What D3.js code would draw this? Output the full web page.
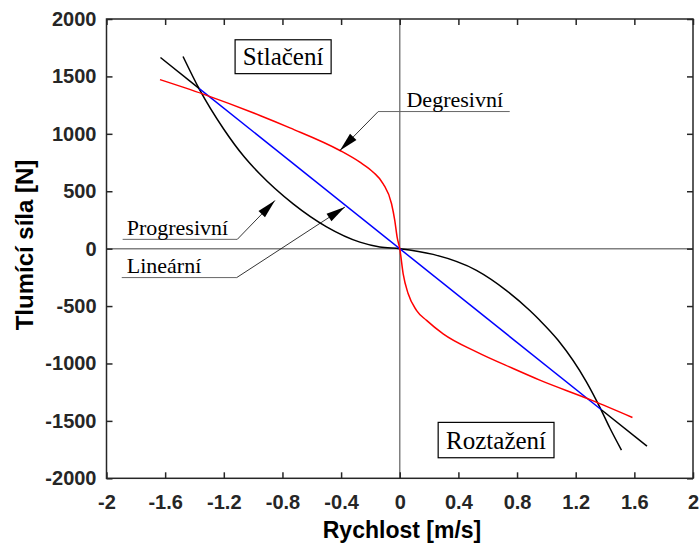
<!DOCTYPE html>
<html>
<head>
<meta charset="utf-8">
<script src="https://cdn.jsdelivr.net/npm/d3@7.9.0/dist/d3.min.js"></script>
<style>
  body { margin: 0; background: #fff; }
  svg { display: block; }
  .tick text { font-family: "Liberation Sans", Arial, sans-serif; font-weight: bold; font-size: 20px; fill: #262626; }
  .note { font-family: "Liberation Serif", "Times New Roman", serif; fill: #000; }
</style>
</head>
<body>
<div id="chart"></div>
<script>
// Velocity [m/s] and damping force [N]
const progV = [-1.478, -1.367, -1.2, -1.061, -0.954, -0.727, -0.499, -0.272, -0.136, 0, 0.228, 0.523, 0.728, 0.887, 0.955, 1.080, 1.273, 1.37, 1.432, 1.512];
const progF = [1673, 1389, 1040, 800, 650, 390, 190, 57, 15, 0, -50, -189, -365, -539, -624, -798, -1160, -1395, -1560, -1754];

const degV = [-1.635, -1.340, -0.954, -0.749, -0.408, -0.272, -0.181, -0.113, -0.056, -0.034, -0.018, 0, 0.023, 0.057, 0.114, 0.183, 0.296, 0.523, 0.773, 0.955, 1.307, 1.587];
const degF = [1472, 1346, 1160, 1052, 855, 753, 666, 565, 391, 246, 101, 0, -217, -391, -537, -625, -742, -899, -1044, -1145, -1319, -1470];

// linear characteristic: blue between the crossings, black beyond them
const linV = [-1.632, -1.367, 1.375, 1.686];
const linF = [1665, 1394, -1403, -1720];

const xTicks = [-2, -1.6, -1.2, -0.8, -0.4, 0, 0.4, 0.8, 1.2, 1.6, 2];
const yTicks = [-2000, -1500, -1000, -500, 0, 500, 1000, 1500, 2000];

// annotations: label, text position, elbow, arrow tip (data units)
const labels = ['Degresivní', 'Progresivní', 'Lineární'];
const labelPos = [[0.046, 1231], [-1.862, 122], [-1.862, -215]];
const lineStart = [[-0.147, 0.75], [-1.89, -1.108], [-1.896, -1.112]];
const elbows = [[-0.147, 1194], [-1.108, 81], [-1.112, -252]];
const tips = [[-0.408, 855], [-0.851, 420], [-0.374, 362]];

const boxes = ['Stlačení', 'Roztažení'];
const boxV = [[-1.123, -0.468], [0.262, 1.052]];
const boxF = [[1819, 1524], [-1513, -1821]];

const width = 699;
const height = 545;
const margin = { top: 19, right: 6, bottom: 66.7, left: 106.5 };

const svg = d3.select('#chart')
  .append('svg')
  .attr('width', width)
  .attr('height', height);

const x = d3.scaleLinear().domain([-2, 2]).range([margin.left, width - margin.right]);
const y = d3.scaleLinear().domain([-2000, 2000]).range([height - margin.bottom, margin.top]);

// zero lines
svg.append('line')
  .attr('x1', x(-2)).attr('x2', x(2))
  .attr('y1', y(0)).attr('y2', y(0))
  .attr('stroke', '#808080').attr('stroke-width', 1.5);
svg.append('line')
  .attr('x1', x(0)).attr('x2', x(0))
  .attr('y1', y(2000)).attr('y2', y(-2000))
  .attr('stroke', '#808080').attr('stroke-width', 1.5);

// axes with inward ticks
const styleAxis = (g) => {
  g.select('.domain').remove();
  g.selectAll('.tick line').attr('stroke', '#262626').attr('stroke-width', 1.5);
};

svg.append('g')
  .attr('transform', `translate(0,${y(-2000)})`)
  .call(d3.axisBottom(x).tickValues(xTicks).tickSizeInner(-6).tickSizeOuter(0).tickPadding(17)
    .tickFormat((d) => String(d)))
  .call(styleAxis);

svg.append('g')
  .attr('transform', `translate(0,${y(2000)})`)
  .call(d3.axisTop(x).tickValues(xTicks).tickSizeInner(-6).tickSizeOuter(0).tickFormat(''))
  .call(styleAxis);

svg.append('g')
  .attr('transform', `translate(${x(-2)},0)`)
  .call(d3.axisLeft(y).tickValues(yTicks).tickSizeInner(-6).tickSizeOuter(0).tickPadding(10)
    .tickFormat((d) => String(d)))
  .call(styleAxis);

svg.append('g')
  .attr('transform', `translate(${x(2)},0)`)
  .call(d3.axisRight(y).tickValues(yTicks).tickSizeInner(-6).tickSizeOuter(0).tickFormat(''))
  .call(styleAxis);

svg.append('rect')
  .attr('x', x(-2)).attr('y', y(2000))
  .attr('width', x(2) - x(-2)).attr('height', y(-2000) - y(2000))
  .attr('fill', 'none').attr('stroke', '#262626').attr('stroke-width', 1.5);

// curves
const line = d3.line()
  .x((d) => x(d[0]))
  .y((d) => y(d[1]))
  .curve(d3.curveMonotoneX);

const zip = (a, b) => a.map((v, i) => [v, b[i]]);

svg.append('path')
  .attr('d', line(zip(progV, progF)))
  .attr('fill', 'none').attr('stroke', '#000').attr('stroke-width', 1.5);

const lin = zip(linV, linF);
const straight = d3.line().x((d) => x(d[0])).y((d) => y(d[1]));
svg.append('path')
  .attr('d', straight(lin.slice(0, 2)))
  .attr('fill', 'none').attr('stroke', '#000').attr('stroke-width', 1.5);
svg.append('path')
  .attr('d', straight(lin.slice(2, 4)))
  .attr('fill', 'none').attr('stroke', '#000').attr('stroke-width', 1.5);
svg.append('path')
  .attr('d', straight(lin.slice(1, 3)))
  .attr('fill', 'none').attr('stroke', '#0000ff').attr('stroke-width', 1.5);

svg.append('path')
  .attr('d', line(zip(degV, degF)))
  .attr('fill', 'none').attr('stroke', '#ff0000').attr('stroke-width', 1.5);

// annotations
labels.forEach((text, i) => {
  const ey = y(elbows[i][1]);
  const ex = x(elbows[i][0]);
  const tx = x(tips[i][0]);
  const ty = y(tips[i][1]);

  svg.append('line')
    .attr('x1', x(lineStart[i][0])).attr('x2', x(lineStart[i][1]))
    .attr('y1', ey).attr('y2', ey)
    .attr('stroke', '#666').attr('stroke-width', 1);

  svg.append('line')
    .attr('x1', ex).attr('y1', ey).attr('x2', tx).attr('y2', ty)
    .attr('stroke', '#000').attr('stroke-width', 0.8);

  // arrow head
  const len = Math.hypot(tx - ex, ty - ey);
  const ux = (tx - ex) / len;
  const uy = (ty - ey) / len;
  const L = 19, W = 9;
  const bx = tx - ux * L, by = ty - uy * L;
  svg.append('polygon')
    .attr('points', [[tx, ty], [bx - uy * W / 2, by + ux * W / 2], [bx + uy * W / 2, by - ux * W / 2]].map((p) => p.join(',')).join(' '))
    .attr('fill', '#000');

  svg.append('text')
    .attr('class', 'note')
    .attr('x', x(labelPos[i][0]))
    .attr('y', y(labelPos[i][1]))
    .attr('font-size', 22)
    .text(text);
});

boxes.forEach((text, i) => {
  const x0 = x(boxV[i][0]), x1 = x(boxV[i][1]);
  const y0 = y(boxF[i][0]), y1 = y(boxF[i][1]);
  svg.append('rect')
    .attr('x', x0).attr('y', y0)
    .attr('width', x1 - x0).attr('height', y1 - y0)
    .attr('fill', '#fff').attr('stroke', '#000').attr('stroke-width', 1.2);
  svg.append('text')
    .attr('class', 'note')
    .attr('x', (x0 + x1) / 2)
    .attr('y', y1 - 9)
    .attr('text-anchor', 'middle')
    .attr('font-size', 25)
    .text(text);
});

// axis titles
svg.append('text')
  .attr('x', 402).attr('y', 538)
  .attr('text-anchor', 'middle')
  .style('font-family', '"Liberation Sans", Arial, sans-serif')
  .style('font-weight', 'bold').style('font-size', '23px').style('fill', '#000')
  .text('Rychlost [m/s]');

svg.append('text')
  .attr('transform', 'translate(33,245) rotate(-90)')
  .attr('text-anchor', 'middle')
  .style('font-family', '"Liberation Sans", Arial, sans-serif')
  .style('font-weight', 'bold').style('font-size', '24px').style('fill', '#000')
  .text('Tlumící síla [N]');
</script>
</body>
</html>
